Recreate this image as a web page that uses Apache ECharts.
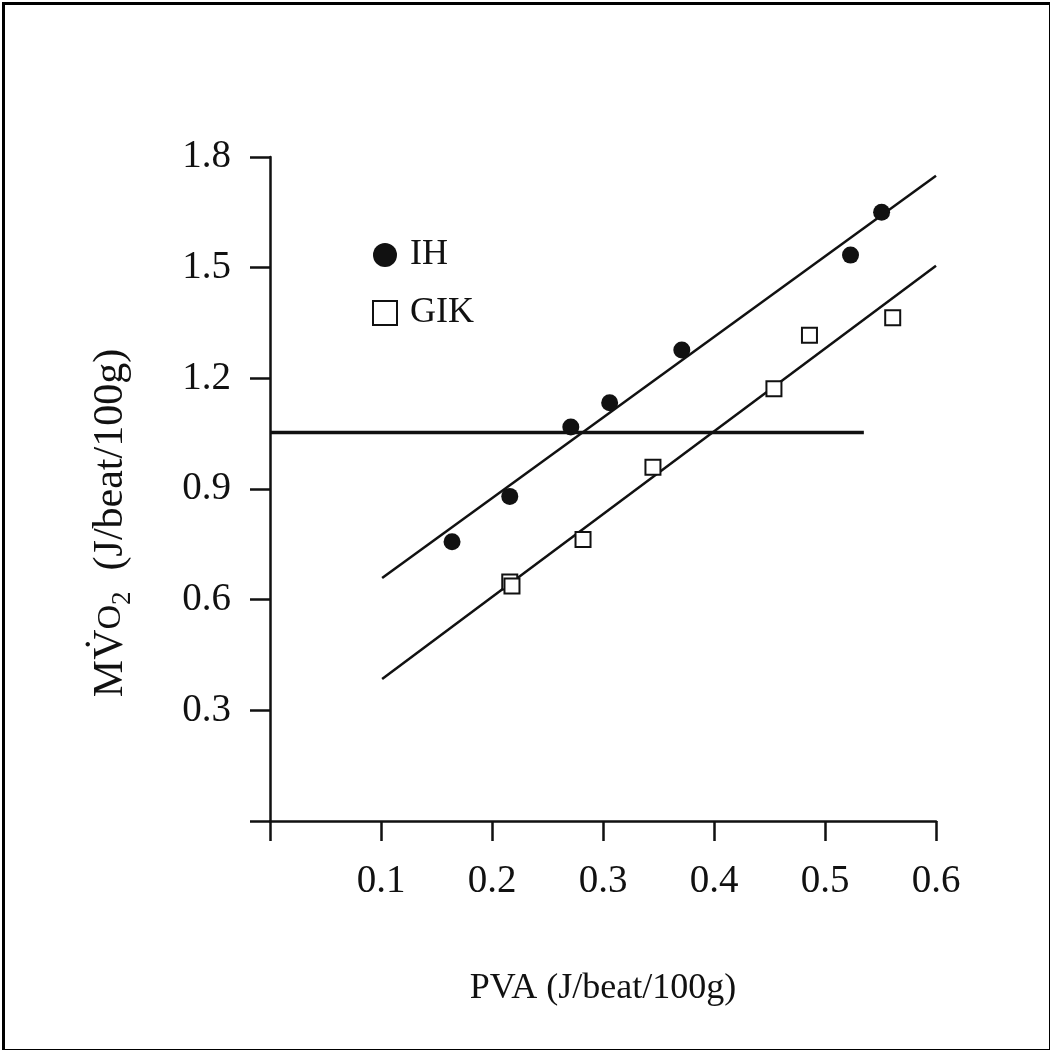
<!DOCTYPE html>
<html>
<head>
<meta charset="utf-8">
<script src="https://cdn.jsdelivr.net/npm/echarts@6/dist/echarts.min.js"></script>
<style>
html,body{margin:0;padding:0;background:#fff;}
#c{width:1050px;height:1050px;}
</style>
</head>
<body>
<div id="c"></div>
<script>
// Data
var ihX = [0.164, 0.216, 0.271, 0.306, 0.371, 0.523, 0.551];
var ihY = [0.757, 0.880, 1.068, 1.134, 1.277, 1.534, 1.650];
var gikX = [0.216, 0.218, 0.282, 0.345, 0.454, 0.486, 0.561];
var gikY = [0.648, 0.637, 0.763, 0.959, 1.172, 1.317, 1.364];
var ihFitX = [0.101, 0.600];
var ihFitY = [0.659, 1.749];
var gikFitX = [0.101, 0.600];
var gikFitY = [0.385, 1.505];
var refX = [0, 0.535];
var refY = [1.053, 1.053];
var xTicks = [0.1, 0.2, 0.3, 0.4, 0.5, 0.6];
var yTicks = [0.3, 0.6, 0.9, 1.2, 1.5, 1.8];

function zip(a, b) { return a.map(function (v, i) { return [v, b[i]]; }); }

var FONT = 'Liberation Serif';
var INK = '#111';

var chart = echarts.init(document.getElementById('c'), null, {renderer: 'canvas'});
chart.setOption({
  backgroundColor: '#fff',
  animation: false,
  graphic: [{
    type: 'rect', left: 1, top: 1,
    shape: {x: 0, y: 0, width: 1047, height: 1047},
    style: {fill: 'none', stroke: '#000', lineWidth: 3}
  }],
  grid: {left: 270, right: 114, top: 157, bottom: 229, containLabel: false},
  legend: {
    data: ['IH', 'GIK'],
    orient: 'vertical',
    left: 367, top: 232,
    itemWidth: 24, itemHeight: 24, itemGap: 22,
    textStyle: {fontFamily: FONT, fontSize: 36, color: INK, padding: [0, 0, 0, 8]},
    selectedMode: false
  },
  xAxis: {
    type: 'value', min: 0, max: 0.6, interval: 0.1,
    name: 'PVA (J/beat/100g)', nameLocation: 'middle', nameGap: 150,
    nameTextStyle: {fontFamily: FONT, fontSize: 36, color: INK},
    axisLine: {show: true, onZero: false, lineStyle: {color: INK, width: 2.5}},
    axisTick: {show: true, inside: false, length: 20, lineStyle: {color: INK, width: 2.5}},
    axisLabel: {
      fontFamily: FONT, fontSize: 39, color: INK, margin: 41,
      formatter: function (v) { return xTicks.indexOf(Math.round(v * 10) / 10) >= 0 ? v.toFixed(1) : ''; }
    },
    splitLine: {show: false}
  },
  yAxis: {
    type: 'value', min: 0, max: 1.8, interval: 0.3,
    name: '{a|MV̇}{b|O}{c|2}{a|  (J/beat/100g)}',
    nameLocation: 'middle', nameGap: 134, nameRotate: 90,
    nameTextStyle: {
      fontFamily: FONT, color: INK, padding: [0, 68, 0, 0],
      rich: {
        a: {fontFamily: FONT, fontSize: 42, color: INK, lineHeight: 50, verticalAlign: 'middle'},
        b: {fontFamily: FONT, fontSize: 34, color: INK, lineHeight: 50, verticalAlign: 'middle'},
        c: {fontFamily: FONT, fontSize: 27, color: INK, lineHeight: 27, verticalAlign: 'bottom'}
      }
    },
    axisLine: {show: true, onZero: false, lineStyle: {color: INK, width: 2.5}},
    axisTick: {show: true, inside: false, length: 20, lineStyle: {color: INK, width: 2.5}},
    axisLabel: {
      fontFamily: FONT, fontSize: 39, color: INK, margin: 39,
      formatter: function (v) {
        var r = Math.round(v * 10) / 10;
        return yTicks.indexOf(r) >= 0 ? r.toFixed(1) : '';
      }
    },
    splitLine: {show: false}
  },
  series: [
    {
      name: 'refLine', type: 'line', data: zip(refX, refY), symbol: 'none',
      lineStyle: {color: INK, width: 3.5}, silent: true, z: 2
    },
    {
      name: 'ihFit', type: 'line', data: zip(ihFitX, ihFitY), symbol: 'none',
      lineStyle: {color: INK, width: 2.5}, silent: true, z: 2
    },
    {
      name: 'gikFit', type: 'line', data: zip(gikFitX, gikFitY), symbol: 'none',
      lineStyle: {color: INK, width: 2.5}, silent: true, z: 2
    },
    {
      name: 'IH', type: 'scatter', data: zip(ihX, ihY), symbol: 'circle', symbolSize: 17,
      itemStyle: {color: INK, opacity: 1}, z: 3
    },
    {
      name: 'GIK', type: 'scatter', data: zip(gikX, gikY), symbol: 'rect', symbolSize: 15,
      itemStyle: {color: '#fff', borderColor: INK, borderWidth: 2, opacity: 1}, z: 3
    }
  ]
});
</script>
</body>
</html>
